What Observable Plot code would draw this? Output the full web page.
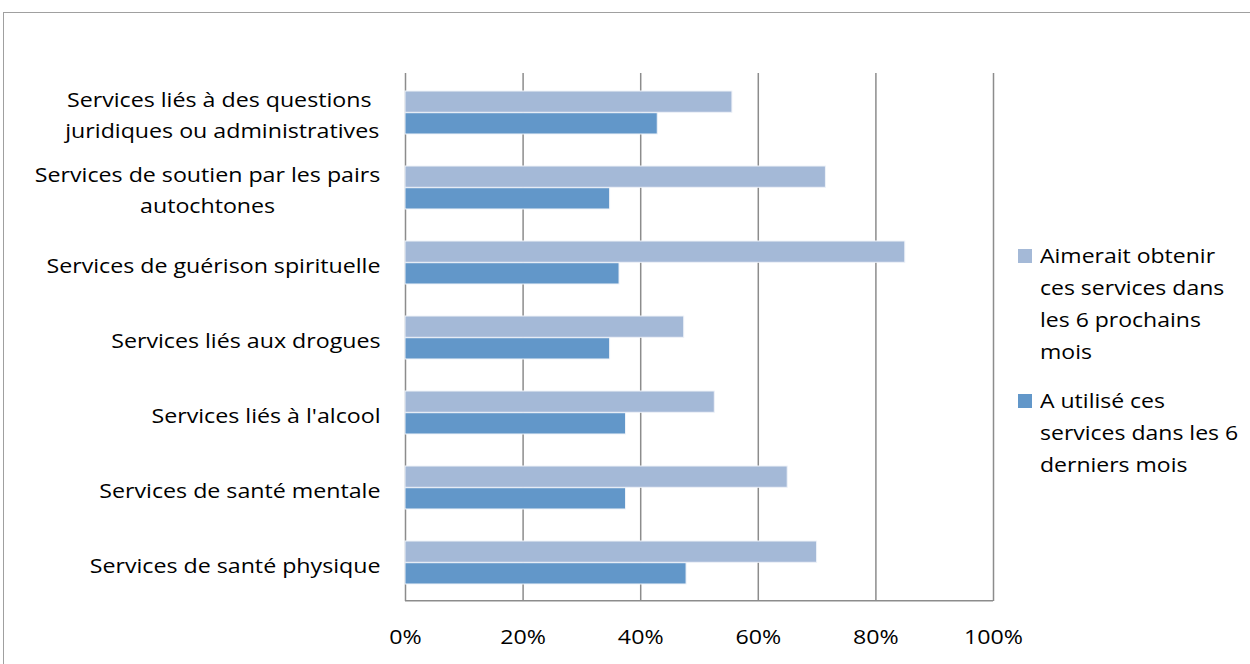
<!DOCTYPE html>
<html>
<head>
<meta charset="utf-8">
<script src="https://cdn.jsdelivr.net/npm/d3@7"></script>
<script src="https://cdn.jsdelivr.net/npm/@observablehq/plot@0.6"></script>
<style>
  html, body { margin: 0; padding: 0; background: #fff; }
  body { width: 1250px; height: 664px; position: relative; overflow: hidden; font-family: "Open Sans", sans-serif; }
  #frame { position: absolute; left: 3px; top: 12px; width: 1400px; height: 800px; border: 1.5px solid #a0a0a0; box-sizing: border-box; }
  #chart { position: absolute; left: 0; top: 0; }
  #legend { position: absolute; left: 1018px; top: 240px; font-size: 20px; line-height: 32px; color: #000; }
  .item { position: relative; padding-left: 22px; margin-bottom: 17px; white-space: nowrap; }
  .txt { transform: scaleX(1.15); transform-origin: 0 0; }
  .sw { position: absolute; left: 0; top: 9px; width: 14px; height: 14px; }
</style>
</head>
<body>
<div id="frame"></div>
<div id="chart"></div>
<div id="legend"></div>
<script>
// ---- data ----
const categories = [
  "Services liés à des questions\u00a0\njuridiques ou administratives",
  "Services de soutien par les pairs\nautochtones",
  "Services de guérison spirituelle",
  "Services liés aux drogues",
  "Services liés à l'alcool",
  "Services de santé mentale",
  "Services de santé physique"
];
const aimerait = [55.6, 71.5, 85.0, 47.4, 52.6, 65.0, 70.0];
const utilise  = [42.9, 34.8, 36.4, 34.8, 37.5, 37.5, 47.8];
const seriesNames = [
  "Aimerait obtenir ces services dans les 6 prochains mois",
  "A utilisé ces services dans les 6 derniers mois"
];
const legendLines = [
  ["Aimerait obtenir", "ces services dans", "les 6 prochains", "mois"],
  ["A utilisé ces", "services dans les 6", "derniers mois"]
];
const xTicks = [0, 20, 40, 60, 80, 100];
const colors = ["#a4b9d7", "#6297c9"];

const rowsA = categories.map((c, i) => ({category: c, value: aimerait[i], series: seriesNames[0]}));
const rowsU = categories.map((c, i) => ({category: c, value: utilise[i], series: seriesNames[1]}));

const W = 1250, H = 664, mt = 73, mb = 63;
const step = (H - mt - mb) / categories.length;
const half = step / 2;
const barH = 21.7;

const chart = Plot.plot({
  width: W,
  height: H,
  marginLeft: 405,
  marginRight: 257,
  marginTop: mt,
  marginBottom: mb,
  style: {fontFamily: "'Open Sans', sans-serif", fontSize: "20px", color: "#000", background: "transparent"},
  x: {domain: [0, 100], ticks: xTicks},
  y: {type: "band", domain: categories, padding: 0},
  marks: [
    Plot.ruleX(xTicks, {stroke: "#8c8c8c", strokeWidth: 1.5}),
    Plot.barX(rowsA, {y: "category", x: "value", fill: colors[0], stroke: "#eef2f8", strokeWidth: 1, insetTop: half - barH, insetBottom: half}),
    Plot.barX(rowsU, {y: "category", x: "value", fill: colors[1], stroke: "#eef2f8", strokeWidth: 1, insetTop: half, insetBottom: half - barH}),
    Plot.ruleY([categories[categories.length - 1]], {dy: half, x1: 0, x2: 100, stroke: "#8c8c8c", strokeWidth: 1.5}),
    Plot.axisX({ticks: xTicks, tickFormat: d => d + "%", tickSize: 0, tickPadding: 28, fontSize: 20, fill: "#000", label: null}),
    Plot.axisY({tickSize: 0, tickPadding: 25, fontSize: 20, fill: "#000", label: null, lineHeight: 1.55})
  ]
});
document.getElementById("chart").appendChild(chart);

// center multi-line category labels within their block (block right-aligned),
// and widen glyphs horizontally to match the reference's wide rendering
chart.querySelectorAll("text").forEach(t => {
  const spans = t.querySelectorAll("tspan");
  if (spans.length > 1) {
    const w = t.getBBox().width;
    t.setAttribute("text-anchor", "middle");
    spans.forEach(s => s.setAttribute("x", -w / 2));
  }
  t.setAttribute("transform", (t.getAttribute("transform") || "") + " scale(1.16,1)");
});

// legend
const lg = document.getElementById("legend");
legendLines.forEach((lines, i) => {
  const d = document.createElement("div");
  d.className = "item";
  const sw = document.createElement("div");
  sw.className = "sw";
  sw.style.background = colors[i];
  d.appendChild(sw);
  const tx = document.createElement("div");
  tx.className = "txt";
  lines.forEach(l => { const s = document.createElement("div"); s.textContent = l; tx.appendChild(s); });
  d.appendChild(tx);
  lg.appendChild(d);
});
</script>
</body>
</html>
